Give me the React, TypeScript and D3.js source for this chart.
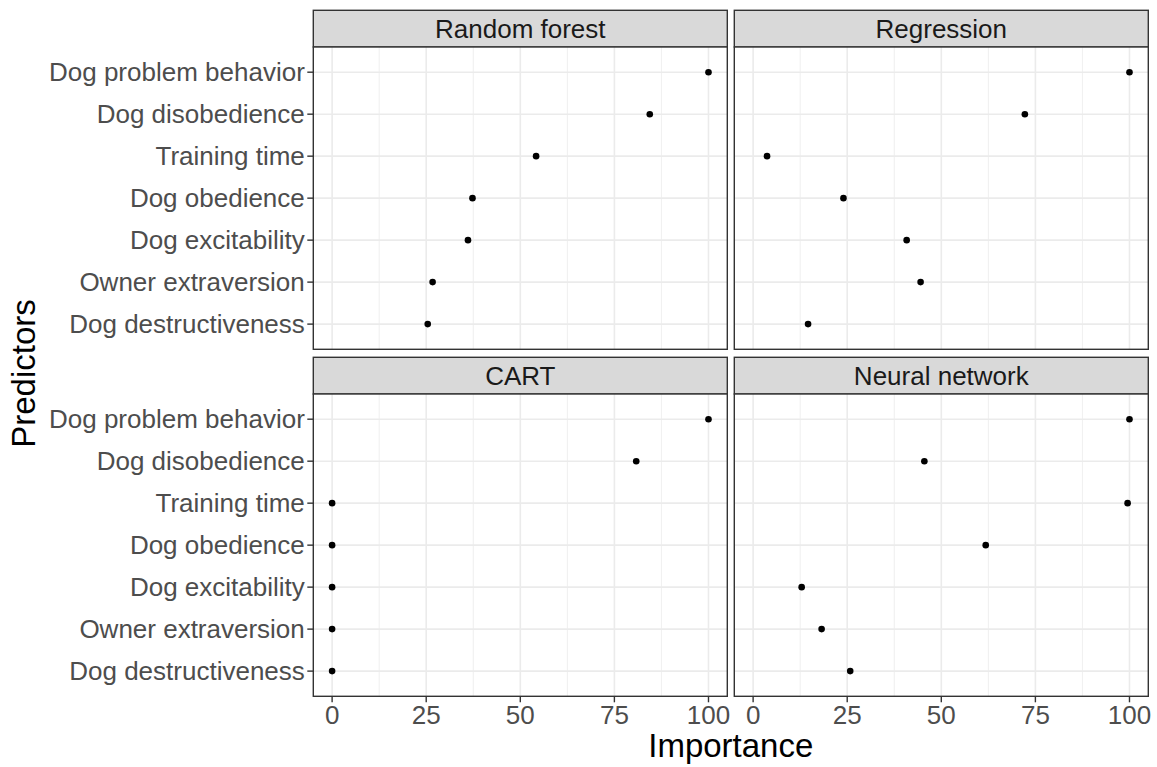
import React from 'react'
import * as d3 from 'd3'

const predictors = [
  'Dog problem behavior',
  'Dog disobedience',
  'Training time',
  'Dog obedience',
  'Dog excitability',
  'Owner extraversion',
  'Dog destructiveness',
]

const models = ['Random forest', 'Regression', 'CART', 'Neural network']

const randomForest = [100, 84.4, 54.2, 37.3, 36.1, 26.7, 25.4]
const regression = [100, 72.2, 3.7, 24.0, 40.8, 44.5, 14.6]
const cart = [100, 80.8, 0, 0, 0, 0, 0]
const neuralNetwork = [100, 45.5, 99.5, 61.8, 12.9, 18.2, 25.8]

const seriesValues = [randomForest, regression, cart, neuralNetwork]

const xTicks = [0, 25, 50, 75, 100]
const xMinor = [12.5, 37.5, 62.5, 87.5]

const W = 1157
const H = 767
const font = "'Liberation Sans', Arial, Helvetica, sans-serif"

// panel geometry (ggplot facet_wrap, 2 x 2)
const colX = [313.3, 734.3]
const panelW = 414
const rowY = [10.3, 357.3]
const stripH = 36.7
const panelH = 302.3

const App = (): JSX.Element => {
  const panels = models.map((m, i) => {
    const col = i % 2
    const row = Math.floor(i / 2)
    const left = colX[col]
    const top = rowY[row] + stripH
    const x = d3.scaleLinear().domain([-5, 105]).range([left, left + panelW])
    const y = d3
      .scalePoint<string>()
      .domain(predictors)
      .range([top, top + panelH])
      .padding(0.6)
    const vals = seriesValues[i]
    return (
      <g key={m}>
        {/* strip */}
        <rect
          x={left}
          y={rowY[row]}
          width={panelW}
          height={stripH}
          fill='#D9D9D9'
          stroke='#333333'
          strokeWidth={1.4}
        />
        <text
          x={left + panelW / 2}
          y={rowY[row] + 28}
          textAnchor='middle'
          fontSize={26}
          fill='#1A1A1A'
          fontFamily={font}
        >
          {m}
        </text>
        <rect x={left} y={top} width={panelW} height={panelH} fill='white' />
        {xMinor.map(t => (
          <line
            key={'mn' + t}
            x1={x(t)}
            x2={x(t)}
            y1={top}
            y2={top + panelH}
            stroke='#EBEBEB'
            strokeWidth={0.8}
          />
        ))}
        {xTicks.map(t => (
          <line
            key={'mj' + t}
            x1={x(t)}
            x2={x(t)}
            y1={top}
            y2={top + panelH}
            stroke='#EBEBEB'
            strokeWidth={1.6}
          />
        ))}
        {predictors.map(p => (
          <line
            key={'h' + p}
            x1={left}
            x2={left + panelW}
            y1={y(p)}
            y2={y(p)}
            stroke='#EBEBEB'
            strokeWidth={1.6}
          />
        ))}
        {predictors.map((p, k) => (
          <circle key={'pt' + p} cx={x(vals[k])} cy={y(p)} r={3.3} fill='black' />
        ))}
        <rect
          x={left}
          y={top}
          width={panelW}
          height={panelH}
          fill='none'
          stroke='#333333'
          strokeWidth={1.4}
        />
        {col === 0 &&
          predictors.map(p => (
            <g key={'yl' + p}>
              <line
                x1={left - 6}
                x2={left}
                y1={y(p)}
                y2={y(p)}
                stroke='#333333'
                strokeWidth={1.4}
              />
              <text
                x={left - 8.5}
                y={y(p)! + 9.3}
                textAnchor='end'
                fontSize={26}
                fill='#4D4D4D'
                fontFamily={font}
              >
                {p}
              </text>
            </g>
          ))}
        {row === 1 &&
          xTicks.map(t => (
            <g key={'xl' + t}>
              <line
                x1={x(t)}
                x2={x(t)}
                y1={top + panelH}
                y2={top + panelH + 6}
                stroke='#333333'
                strokeWidth={1.4}
              />
              <text
                x={x(t)}
                y={top + panelH + 28}
                textAnchor='middle'
                fontSize={26}
                fill='#4D4D4D'
                fontFamily={font}
              >
                {t}
              </text>
            </g>
          ))}
      </g>
    )
  })

  return (
    <svg
      width={W}
      height={H}
      style={{ position: 'absolute', left: 0, top: 0, background: 'white' }}
    >
      <rect width={W} height={H} fill='white' />
      {panels}
      <text
        x={730.8}
        y={757}
        textAnchor='middle'
        fontSize={33}
        fill='black'
        fontFamily={font}
      >
        Importance
      </text>
      <text
        transform='translate(35,373.5) rotate(-90)'
        textAnchor='middle'
        fontSize={33}
        fill='black'
        fontFamily={font}
      >
        Predictors
      </text>
    </svg>
  )
}

export default App
